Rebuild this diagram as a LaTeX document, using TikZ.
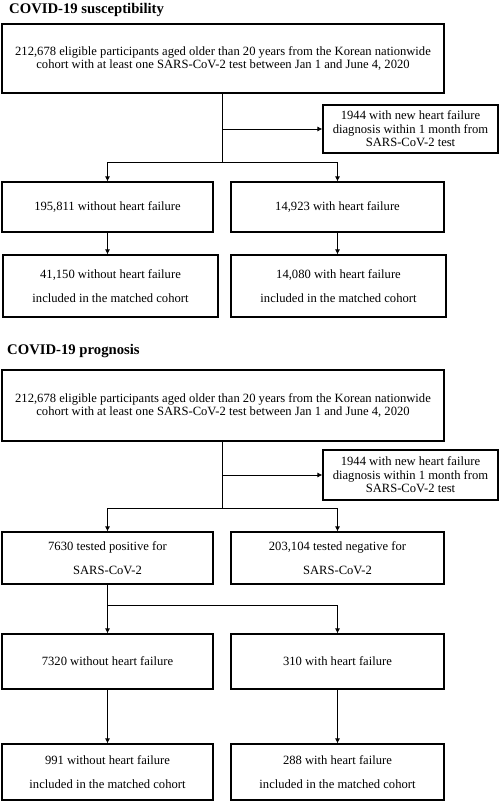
\documentclass[tikz,border=0pt]{standalone}
\usepackage{fontspec}
\setmainfont{Liberation Serif}
\usetikzlibrary{arrows.meta}
\begin{document}
\begin{tikzpicture}[x=1pt,y=-1pt,
		box/.style={draw,line width=1.2pt,rectangle,inner sep=0pt,align=center,font=\fontsize{12.6}{13.5}\selectfont},
		wide/.style={box,font=\fontsize{12.6}{23.5}\selectfont},
		head/.style={anchor=west,inner sep=0pt,font=\fontsize{14.7}{17}\selectfont\bfseries},
		arr/.style={-{Latex[length=5pt,width=5pt]},line width=0.8pt},
		lin/.style={line width=0.8pt}]
		\useasboundingbox (0,0) rectangle (500,802);
		% susceptibility
		\node[head] (suscTitle) at (9,10) {COVID-19 susceptibility};
		\node[box,minimum width=442pt,minimum height=69pt] (suscAll) at (223,58.5)
		{212,678 eligible participants aged older than 20 years from the Korean nationwide\\cohort with at least one SARS-CoV-2 test between Jan 1 and June 4, 2020};
		\node[box,minimum width=175pt,minimum height=48pt] (suscExcl) at (410.5,129)
		{1944 with new heart failure\\diagnosis within 1 month from\\SARS-CoV-2 test};
		\node[box,minimum width=211pt,minimum height=50pt] (suscNoHF) at (107.5,207) {195,811 without heart failure};
		\node[box,minimum width=213pt,minimum height=50pt] (suscHF) at (337.5,207) {14,923 with heart failure};
		\node[wide,minimum width=215pt,minimum height=62pt] (suscNoHFm) at (110.5,286)
		{41,150 without heart failure\\included in the matched cohort};
		\node[wide,minimum width=215pt,minimum height=62pt] (suscHFm) at (338.5,286)
		{14,080 with heart failure\\included in the matched cohort};
		\coordinate (suscSplit) at (222,162);
		\draw[lin] (suscAll.south -| suscSplit) -- (suscSplit);
		\draw[arr] (suscSplit |- suscExcl.west) -- (suscExcl.west);
		\draw[arr] (suscSplit) -| (suscNoHF.north);
		\draw[arr] (suscSplit) -| (suscHF.north);
		\draw[arr] (suscNoHF.south) -- (suscNoHF.south |- suscNoHFm.north);
		\draw[arr] (suscHF.south) -- (suscHF.south |- suscHFm.north);
		% prognosis
		\node[head] (progTitle) at (7,351) {COVID-19 prognosis};
		\node[box,minimum width=442pt,minimum height=71pt] (progAll) at (223,405.5)
		{212,678 eligible participants aged older than 20 years from the Korean nationwide\\cohort with at least one SARS-CoV-2 test between Jan 1 and June 4, 2020};
		\node[box,minimum width=175pt,minimum height=50pt] (progExcl) at (410.5,475)
		{1944 with new heart failure\\diagnosis within 1 month from\\SARS-CoV-2 test};
		\node[wide,minimum width=211pt,minimum height=52pt] (progPos) at (107.5,558)
		{7630 tested positive for\\SARS-CoV-2};
		\node[wide,minimum width=213pt,minimum height=52pt] (progNeg) at (337.5,558)
		{203,104 tested negative for\\SARS-CoV-2};
		\node[box,minimum width=211pt,minimum height=55pt] (progNoHF) at (107.5,661.5) {7320 without heart failure};
		\node[box,minimum width=213pt,minimum height=55pt] (progHF) at (337.5,661.5) {310 with heart failure};
		\node[wide,minimum width=211pt,minimum height=56pt] (progNoHFm) at (107.5,772)
		{991 without heart failure\\included in the matched cohort};
		\node[wide,minimum width=213pt,minimum height=56pt] (progHFm) at (337.5,772)
		{288 with heart failure\\included in the matched cohort};
		\coordinate (progSplit) at (222,508);
		\coordinate (progBranch) at (107.5,605);
		\draw[lin] (progAll.south -| progSplit) -- (progSplit);
		\draw[arr] (progSplit |- progExcl.west) -- (progExcl.west);
		\draw[arr] (progSplit) -| (progPos.north);
		\draw[arr] (progSplit) -| (progNeg.north);
		\draw[lin] (progPos.south) -- (progBranch);
		\draw[arr] (progBranch) -- (progNoHF.north);
		\draw[arr] (progBranch) -| (progHF.north);
		\draw[arr] (progNoHF.south) -- (progNoHFm.north);
		\draw[arr] (progHF.south) -- (progHFm.north);
\end{tikzpicture}
\end{document}
